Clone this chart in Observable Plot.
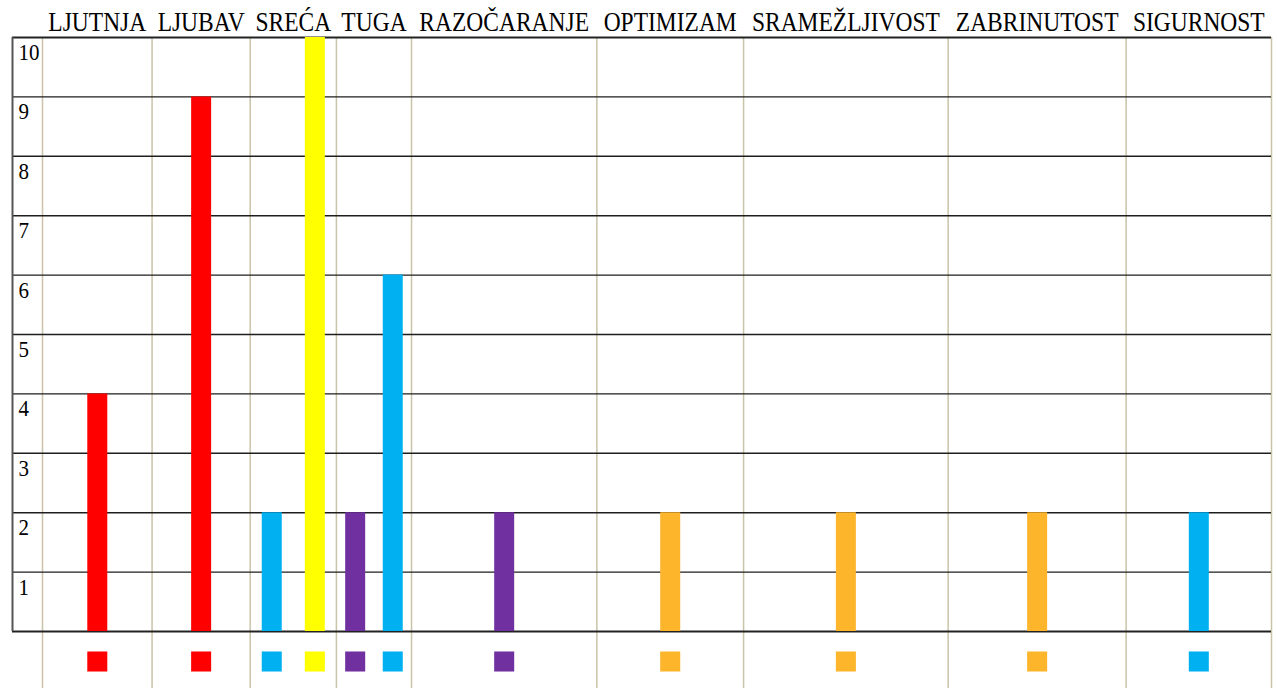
<!DOCTYPE html>
<html>
<head>
<meta charset="utf-8">
<script src="https://cdn.jsdelivr.net/npm/d3@7"></script>
<script src="https://cdn.jsdelivr.net/npm/@observablehq/plot@0.6"></script>
<style>
  html, body { margin: 0; padding: 0; background: #fff; }
  #chart svg { display: block; }
  #chart svg text { font-family: "Liberation Serif", "Times New Roman", serif; }
</style>
</head>
<body>
<div id="chart"></div>
<script>
// ---- data ----
const categories = ["LJUTNJA", "LJUBAV", "SREĆA", "TUGA", "RAZOČARANJE", "OPTIMIZAM", "SRAMEŽLJIVOST", "ZABRINUTOST", "SIGURNOST"];
const barCategory = ["LJUTNJA", "LJUBAV", "SREĆA", "SREĆA", "TUGA", "TUGA", "RAZOČARANJE", "OPTIMIZAM", "SRAMEŽLJIVOST", "ZABRINUTOST", "SIGURNOST"];
const barSeries   = ["crvena", "crvena", "plava", "žuta", "ljubičasta", "plava", "ljubičasta", "narančasta", "narančasta", "narančasta", "plava"];
const barValue    = [4, 9, 2, 10, 2, 6, 2, 2, 2, 2, 2];
const seriesNames = ["crvena", "plava", "žuta", "ljubičasta", "narančasta"];
const seriesColors = ["#FF0000", "#00B0F0", "#FFFF00", "#7030A0", "#FDB52B"];
const yTicks = [1, 2, 3, 4, 5, 6, 7, 8, 9, 10];

// ---- layout (derived from header text widths) ----
const W = 1277, H = 688;
const fontFamily = '"Liberation Serif", "Times New Roman", serif';
const headerSize = 23.5, labelSize = 21;
const ctx = document.createElement("canvas").getContext("2d");
function measure(t, size) { ctx.font = `${size}px ${fontFamily}`; return ctx.measureText(t).width; }

const colW = categories.map(c => measure(c, headerSize) + 6);
const sumCols = d3.sum(colW);
const plotW = W - 12 - 6;
const labelPx = measure("10", labelSize) + 9;             // pixel width of the label column
const labelColW = labelPx * sumCols / (plotW - labelPx);  // same, in x units
const starts = [];
let acc = labelColW;
colW.forEach(w => { starts.push(acc); acc += w; });
const total = acc;
const columns = categories.map((c, i) => ({name: c, cx: starts[i] + colW[i] / 2}));
const boundaries = [...starts, total];

const counts = d3.rollup(barCategory, v => v.length, d => d);
const seen = new Map();
const bars = barCategory.map((c, i) => {
  const ci = categories.indexOf(c);
  const n = counts.get(c);
  const k = seen.get(c) || 0; seen.set(c, k + 1);
  return {category: c, series: barSeries[i], value: barValue[i], cx: starts[ci] + colW[ci] * (k + 0.5) / n};
});

const chart = Plot.plot({
  width: W,
  height: H,
  marginTop: 37,
  marginBottom: 57,
  marginLeft: 12,
  marginRight: 6,
  x: {domain: [0, total], axis: null},
  y: {domain: [0, 10], axis: null},
  color: {domain: seriesNames, range: seriesColors},
  style: {fontFamily: fontFamily, background: "#fff"},
  marks: [
    Plot.ruleX(boundaries, {x: d => d, stroke: "#CBC3A8", strokeWidth: 1.5, insetBottom: -57}),
    Plot.ruleY(yTicks.filter(d => d < 10), {y: d => d, stroke: "#1e1e1e", strokeWidth: 1.4}),
    Plot.ruleY([0, 10], {y: d => d, stroke: "#222", strokeWidth: 2.2}),
    Plot.ruleX([0], {x: d => d, stroke: "#555", strokeWidth: 2}),
    Plot.ruleX(bars, {x: "cx", y1: 0, y2: "value", stroke: "series", strokeWidth: 20}),
    Plot.dot(bars, {x: "cx", frameAnchor: "bottom", dy: 30, symbol: "square", r: 11.3, fill: "series"}),
    Plot.text(columns, {x: "cx", y: () => 10, text: "name", dy: -15, fontSize: headerSize, fontFamily, fill: "#000"}),
    Plot.text(yTicks, {x: () => 0, y: d => d, text: d => String(d), dx: 6, dy: 15, textAnchor: "start", fontSize: labelSize, fontFamily, fill: "#000"})
  ]
});

chart.querySelectorAll('g[aria-label="text"] text').forEach(t => {
  const tr = t.getAttribute("transform") || "";
  t.setAttribute("transform", tr + " scale(1,1.12)");
});

document.getElementById("chart").appendChild(chart);
</script>
</body>
</html>
